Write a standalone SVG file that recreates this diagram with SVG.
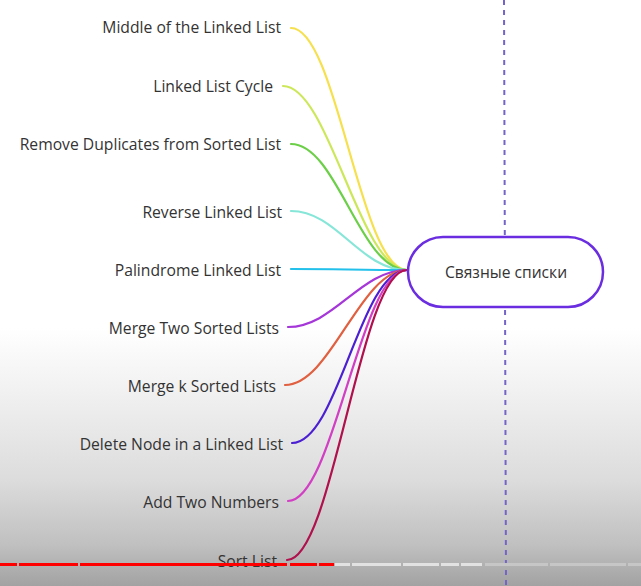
<svg xmlns="http://www.w3.org/2000/svg" width="641" height="586" viewBox="0 0 641 586">
<defs>
<linearGradient id="bg" x1="0" y1="0" x2="0" y2="586" gradientUnits="userSpaceOnUse">
<stop offset="0" stop-color="#ffffff"/>
<stop offset="0.56" stop-color="#ffffff"/>
<stop offset="0.66" stop-color="#f2f2f2"/>
<stop offset="0.82" stop-color="#dcdcdc"/>
<stop offset="0.93" stop-color="#c0c0c0"/>
<stop offset="1" stop-color="#a2a2a2"/>
</linearGradient>
<style>
.lbl{font-family:"Open Sans","Liberation Sans",sans-serif;font-size:15.7px;fill:#333333;text-anchor:end}
.c{fill:none;stroke-width:2.2;stroke-linecap:round}
.red{fill:#ff0000}
.lt{fill:#e2e2e2}
.dk{fill:#c6c6c6}
</style>
</defs>
<rect x="0" y="0" width="641" height="586" fill="url(#bg)"/>
<line x1="504" y1="0" x2="506" y2="586" stroke="#7464c8" stroke-width="2" stroke-dasharray="5,5"/>
<g id="connectors">
<path class="c" stroke="#f6e04c" d="M291 28 C337 28 360 270 407 270"/>
<path class="c" stroke="#cce85a" d="M283 86 C329 86 360 270 407 270"/>
<path class="c" stroke="#6ccf48" d="M291 144 C337 144 360 270 407 270"/>
<path class="c" stroke="#86e6d8" d="M291 211 C337 211 360 270 407 270"/>
<path class="c" stroke="#22c0ea" d="M291 269 C337 269 360 270 407 270"/>
<path class="c" stroke="#a536d8" d="M288 327 C334 327 360 270 407 270"/>
<path class="c" stroke="#e06040" d="M285 385 C331 385 360 270 407 270"/>
<path class="c" stroke="#4b1fd2" d="M292 443 C338 443 360 270 407 270"/>
<path class="c" stroke="#d23ec4" d="M288 501 C334 501 360 270 407 270"/>
<path class="c" stroke="#b0104c" d="M287 560 C333 560 360 270 407 270"/>
</g>
<g id="n1"><text class="lbl" x="281" y="33">Middle of the Linked List</text></g>
<g id="n2"><text class="lbl" x="273" y="92">Linked List Cycle</text></g>
<g id="n3"><text class="lbl" x="281" y="150">Remove Duplicates from Sorted List</text></g>
<g id="n4"><text class="lbl" x="282" y="218">Reverse Linked List</text></g>
<g id="n5"><text class="lbl" x="281" y="276">Palindrome Linked List</text></g>
<g id="n6"><text class="lbl" x="279" y="334">Merge Two Sorted Lists</text></g>
<g id="n7"><text class="lbl" x="276" y="392">Merge k Sorted Lists</text></g>
<g id="n8"><text class="lbl" x="283" y="450">Delete Node in a Linked List</text></g>
<g id="n9"><text class="lbl" x="279" y="508">Add Two Numbers</text></g>
<g id="n10"><text class="lbl" x="277" y="567">Sort List</text></g>
<g id="root">
<rect x="408" y="237" width="195" height="70" rx="35" fill="#ffffff" stroke="#6a2de0" stroke-width="2.5"/>
<text x="506" y="278" font-family="'Open Sans','Liberation Sans',sans-serif" font-size="15.6" fill="#333333" text-anchor="middle">Связные списки</text>
</g>
<g id="progress">
<rect class="red" x="0" y="563" width="17" height="3"/>
<rect class="red" x="19" y="563" width="59" height="3"/>
<rect class="red" x="80" y="563" width="207" height="3"/>
<rect class="red" x="290" y="563" width="27" height="3"/>
<rect class="red" x="319" y="563" width="15" height="3"/>
<rect class="lt" x="335" y="563" width="15" height="3"/>
<rect class="lt" x="352" y="563" width="49" height="3"/>
<rect class="lt" x="403" y="563" width="36" height="3"/>
<rect class="lt" x="441" y="563" width="18" height="3"/>
<rect class="lt" x="461" y="563" width="21" height="3"/>
<rect class="dk" x="485" y="563" width="63" height="3"/>
<rect class="dk" x="550" y="563" width="76" height="3"/>
<rect class="dk" x="628" y="563" width="13" height="3"/>
</g>
</svg>
